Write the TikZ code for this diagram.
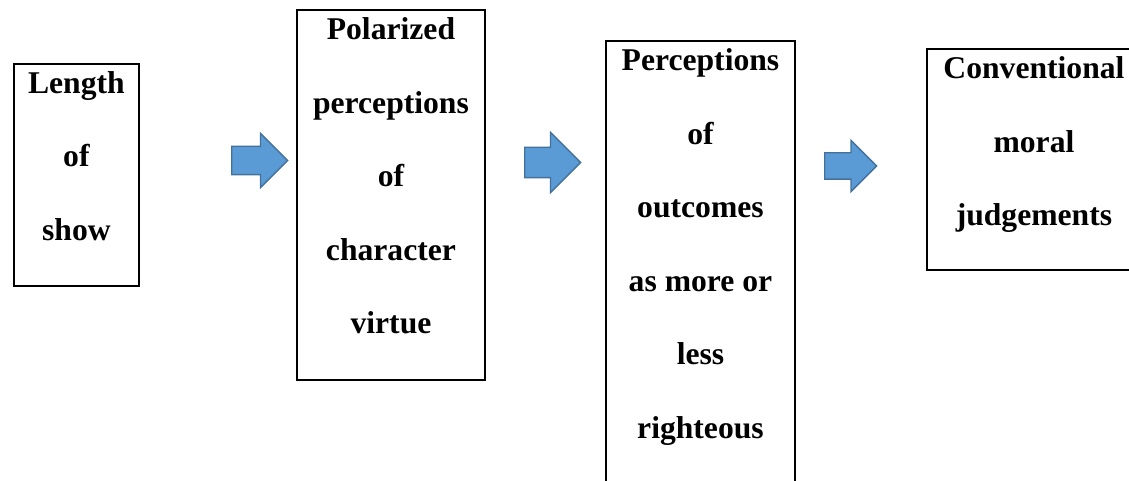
\documentclass[tikz,border=0pt]{standalone}
\usepackage{fontspec}
\setmainfont{Liberation Serif}
\usetikzlibrary{shapes.arrows}

\definecolor{arrfill}{HTML}{5B9BD5}
\definecolor{arrline}{HTML}{41719C}

\begin{document}
\begin{tikzpicture}[
  stage/.style={draw=black,line width=1.1pt,anchor=north west,inner sep=0pt},
  stagetxt/.style={anchor=north,inner sep=0pt,yshift=-0.17cm,align=center,font=\fontsize{18}{41.8}\selectfont\bfseries},
  flow/.style={single arrow,draw=arrline,fill=arrfill,line width=0.8pt,inner xsep=0pt,anchor=tail,single arrow head extend=#1}
]
\useasboundingbox (0,0) rectangle (22.58,-9.62);
% boxes of the chain
\node[stage,minimum width=2.51cm,minimum height=4.45cm] (len) at (0.254,-1.254) {};
\node[stage,minimum width=3.76cm,minimum height=7.4cm] (virt) at (5.92,-0.18) {};
\node[stage,minimum width=3.78cm,minimum height=9.8cm] (outc) at (12.1,-0.8) {};
\node[stage,minimum width=4.28cm,minimum height=4.42cm] (moral) at (18.52,-0.96) {};
\node[stagetxt] (len-txt) at (len.north) {Length\\of\\show};
\node[stagetxt] (virt-txt) at (virt.north) {Polarized\\perceptions\\of\\character\\virtue};
\node[stagetxt] (outc-txt) at (outc.north) {Perceptions\\of\\outcomes\\as more or\\less\\righteous};
\node[stagetxt] (moral-txt) at (moral.north) {Conventional\\moral\\judgements};
% block arrows between the boxes
\node[flow=0.26cm,inner ysep=0.27cm,minimum height=1.12cm,minimum width=1.06cm] (arr1) at (4.62,-3.21) {};
\node[flow=0.30cm,inner ysep=0.29cm,minimum height=1.12cm,minimum width=1.18cm] (arr2) at (10.48,-3.25) {};
\node[flow=0.25cm,inner ysep=0.25cm,minimum height=1.04cm,minimum width=1.0cm] (arr3) at (16.48,-3.32) {};
\end{tikzpicture}
\end{document}
